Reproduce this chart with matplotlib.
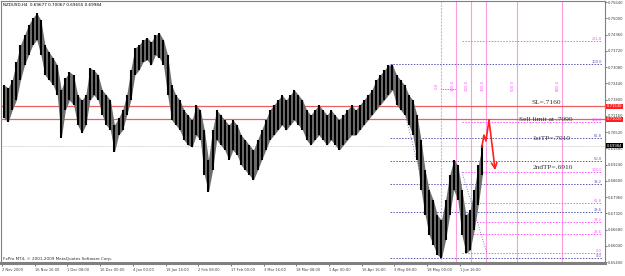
import matplotlib
matplotlib.use("Agg")
import matplotlib.pyplot as plt

# NZDUSD H4, Nov 2009 - Jun 2010, one entry per 8 bars (high / low)
bar_high = [0.7237, 0.7226, 0.7257, 0.7328, 0.7395, 0.7434, 0.7474, 0.7501, 0.7521, 0.7493,
            0.7395, 0.7367, 0.7344, 0.7316, 0.7218, 0.7265, 0.7289, 0.7277, 0.7198, 0.7178,
            0.7198, 0.7304, 0.7296, 0.7277, 0.7218, 0.7198, 0.7178, 0.7080, 0.7107, 0.7139,
            0.7198, 0.7296, 0.7383, 0.7395, 0.7415, 0.7423, 0.7407, 0.7434, 0.7442, 0.7415,
            0.7356, 0.7237, 0.7198, 0.7178, 0.7139, 0.7119, 0.7099, 0.7159, 0.7139, 0.7060,
            0.6942, 0.7060, 0.7139, 0.7119, 0.7099, 0.7080, 0.7099, 0.7080, 0.7040, 0.7021,
            0.7001, 0.6981, 0.7021, 0.7060, 0.7099, 0.7139, 0.7159, 0.7178, 0.7198, 0.7178,
            0.7198, 0.7218, 0.7198, 0.7178, 0.7139, 0.7119, 0.7139, 0.7159, 0.7139, 0.7119,
            0.7139, 0.7119, 0.7099, 0.7119, 0.7139, 0.7159, 0.7139, 0.7159, 0.7178, 0.7198,
            0.7218, 0.7257, 0.7277, 0.7296, 0.7316, 0.7316, 0.7277, 0.7257, 0.7237, 0.7198,
            0.7178, 0.7119, 0.7021, 0.6902, 0.6824, 0.6784, 0.6725, 0.6705, 0.6784, 0.6883,
            0.6942, 0.6922, 0.6824, 0.6725, 0.6745, 0.6824, 0.6922, 0.7001]
bar_low = [0.7107, 0.7092, 0.7139, 0.7178, 0.7257, 0.7316, 0.7356, 0.7395, 0.7415, 0.7356,
           0.7277, 0.7257, 0.7237, 0.7198, 0.7029, 0.7139, 0.7178, 0.7159, 0.7080, 0.7048,
           0.7080, 0.7178, 0.7198, 0.7178, 0.7119, 0.7080, 0.7060, 0.6973, 0.7040, 0.7060,
           0.7119, 0.7178, 0.7277, 0.7296, 0.7328, 0.7336, 0.7316, 0.7356, 0.7344, 0.7316,
           0.7198, 0.7099, 0.7080, 0.7060, 0.7021, 0.7001, 0.6993, 0.7040, 0.7021, 0.6883,
           0.6816, 0.6902, 0.7021, 0.7001, 0.6981, 0.6942, 0.6981, 0.6962, 0.6922, 0.6902,
           0.6883, 0.6863, 0.6902, 0.6942, 0.6981, 0.7021, 0.7040, 0.7060, 0.7080, 0.7060,
           0.7080, 0.7099, 0.7080, 0.7060, 0.7021, 0.7001, 0.7021, 0.7040, 0.7021, 0.7001,
           0.7021, 0.7001, 0.6981, 0.7001, 0.7021, 0.7040, 0.7040, 0.7060, 0.7080, 0.7099,
           0.7119, 0.7139, 0.7159, 0.7178, 0.7198, 0.7218, 0.7159, 0.7139, 0.7119, 0.7080,
           0.7040, 0.6942, 0.6824, 0.6725, 0.6646, 0.6607, 0.6568, 0.6556, 0.6627, 0.6725,
           0.6824, 0.6784, 0.6646, 0.6575, 0.6587, 0.6666, 0.6765, 0.6883]
bars_per_entry = 8

date_labels = ["2 Nov 2009", "16 Nov 16:00", "1 Dec 08:00", "16 Dec 00:00", "4 Jan 00:00",
               "18 Jan 16:00", "2 Feb 08:00", "17 Feb 00:00", "3 Mar 16:00", "18 Mar 08:00",
               "1 Apr 00:00", "16 Apr 16:00", "3 May 08:00", "18 May 00:00", "1 Jun 16:00"]
bars_per_label = 64

price_ticks = [0.65400 + 0.0064 * i for i in range(17)]

sl_price = 0.71530
entry_price = 0.71020
bid_price = 0.69984

# Fibonacci retracements
fib1_low, fib1_high = 0.6556, 0.7320
fib1_levels = [0.0, 23.6, 38.2, 50.0, 61.8, 100.0]
fib2_low, fib2_high = 0.6575, 0.6894
fib2_levels = [0.0, 23.6, 38.2, 61.8, 100.0, 161.8, 261.8]

# Fibonacci time zones
tz_start, tz_step = 859, 29.6
tz_levels = [0, 1, 2, 3, 5, 8]

# projected path (red arrow)
arrow_idx = [939, 943, 947, 953, 965]
arrow_px = [0.6993, 0.7040, 0.7017, 0.7099, 0.6902]

notes = [("SL=.7160", 1036, 0.7170), ("Sell limit at .7090", 1011, 0.7101),
         ("1stTP=.7010", 1038, 0.7025), ("2ndTP=.6910", 1038, 0.6912)]

blue = "#5a5ab4"
pink = "#ff55ff"
tzc = "#ff9ce0"

fig = plt.figure(figsize=(6.25, 2.76), dpi=100)
ax = fig.add_axes([1 / 625, 13 / 276, 604 / 625, 262 / 276])
ax.set_xlim(-2, 1180)
ax.set_ylim(0.65361, 0.75683)

# price range band (grey) + black bar strokes
xs = [bars_per_entry * k + 4 for k in range(len(bar_high))]
ax.fill_between(xs, bar_low, bar_high, color="#6e6e6e", lw=0, zorder=4)
ax.vlines(xs, bar_low, bar_high, color="black", lw=1.5, zorder=4)

# horizontal lines
ax.axhline(sl_price, color="#e86060", lw=0.9, zorder=3)
ax.axhline(entry_price, color="#e86060", lw=0.9, zorder=3)
ax.axhline(bid_price, color="#c0c0c0", lw=0.6, ls=(0, (1, 1)), zorder=2)

# time zones
for i, z in enumerate(tz_levels):
    xz = tz_start + tz_step * z
    ax.axvline(xz, color=tzc, lw=0.8, ls=(0, (2, 1)) if i == 0 else "-", zorder=1)
    ax.text(xz - 4, 0.7235, "%.1f" % (z * 100), rotation=90, fontsize=2.8, color=pink,
            ha="right", va="center")
ax.plot([tz_start, tz_start + tz_step], [0.7220, 0.7220], color="#e04040", lw=0.6,
        ls=(0, (1, 1)))

# fib 1 (blue)
x0, x1 = 759, 1174
for lv in fib1_levels:
    p = fib1_low + (fib1_high - fib1_low) * lv / 100
    ax.plot([x0, x1], [p, p], color=blue, lw=0.7, ls=(0, (1.5, 1.5)), zorder=2)
    ax.text(x1, p, "%.1f" % lv, fontsize=2.6, color=blue, ha="right", va="bottom")
ax.plot([x0 + 5, 860], [fib1_high, fib1_low], color=blue, lw=0.6, ls=(0, (1, 2)), zorder=2)

# fib 2 (pink)
x0 = 900
for lv in fib2_levels:
    p = fib2_low + (fib2_high - fib2_low) * lv / 100
    ax.plot([x0, x1], [p, p], color=pink, lw=0.7, ls=(0, (1.5, 1.5)), zorder=2)
    ax.text(x1, p, "%.1f" % lv, fontsize=2.6, color=pink, ha="right", va="bottom")
ax.plot([x0, 949], [fib2_high, fib2_low], color=blue, lw=0.6, ls=(0, (1, 2)), zorder=2)

# red arrow
ax.plot(arrow_idx[:-1], arrow_px[:-1], color="#ff2020", lw=1.2, zorder=5)
ax.annotate("", xy=(arrow_idx[-1], arrow_px[-1]), xytext=(arrow_idx[-2], arrow_px[-2]),
            arrowprops=dict(arrowstyle="->", color="#ff2020", lw=1.2, shrinkA=0, shrinkB=0),
            zorder=5)

for txt, xi, py in notes:
    ax.text(xi, py, txt, fontsize=5.3, family="Liberation Serif", color="#333333",
            ha="left", va="center", zorder=6)

# axes look
for s in ax.spines.values():
    s.set_color("#808080")
    s.set_linewidth(0.8)
ax.spines["bottom"].set_linewidth(2.2)
ax.yaxis.tick_right()
ax.set_yticks(price_ticks)
ax.set_yticklabels(["%.5f" % t for t in price_ticks])
ax.tick_params(axis="y", labelsize=2.7, length=1.5, pad=0.8, width=0.5, colors="#404040")
ax.set_xticks([bars_per_label * i for i in range(len(date_labels))])
ax.set_xticklabels(date_labels, ha="left")
ax.tick_params(axis="x", labelsize=2.6, length=2, pad=1.5, width=0.5, colors="#404040")

for val, bg in [(sl_price, "#ff2020"), (entry_price, "#ff2020"), (bid_price, "black")]:
    ax.text(1.003, val, "%.5f" % val, transform=ax.get_yaxis_transform(), fontsize=2.7,
            color="white", va="center", ha="left",
            bbox=dict(boxstyle="square,pad=0.15", fc=bg, ec="none"))

ax.text(0.004, 0.992, "NZDUSD,H4  0.69677 0.70067 0.69655 0.69984", transform=ax.transAxes,
        fontsize=3, va="top", ha="left", color="black")
ax.text(0.004, 0.006, "FxPro MT4, \u00a9 2001-2009 MetaQuotes Software Corp.",
        transform=ax.transAxes, fontsize=3, va="bottom", ha="left", color="#303030")

fig.savefig("out.png", dpi=100)
